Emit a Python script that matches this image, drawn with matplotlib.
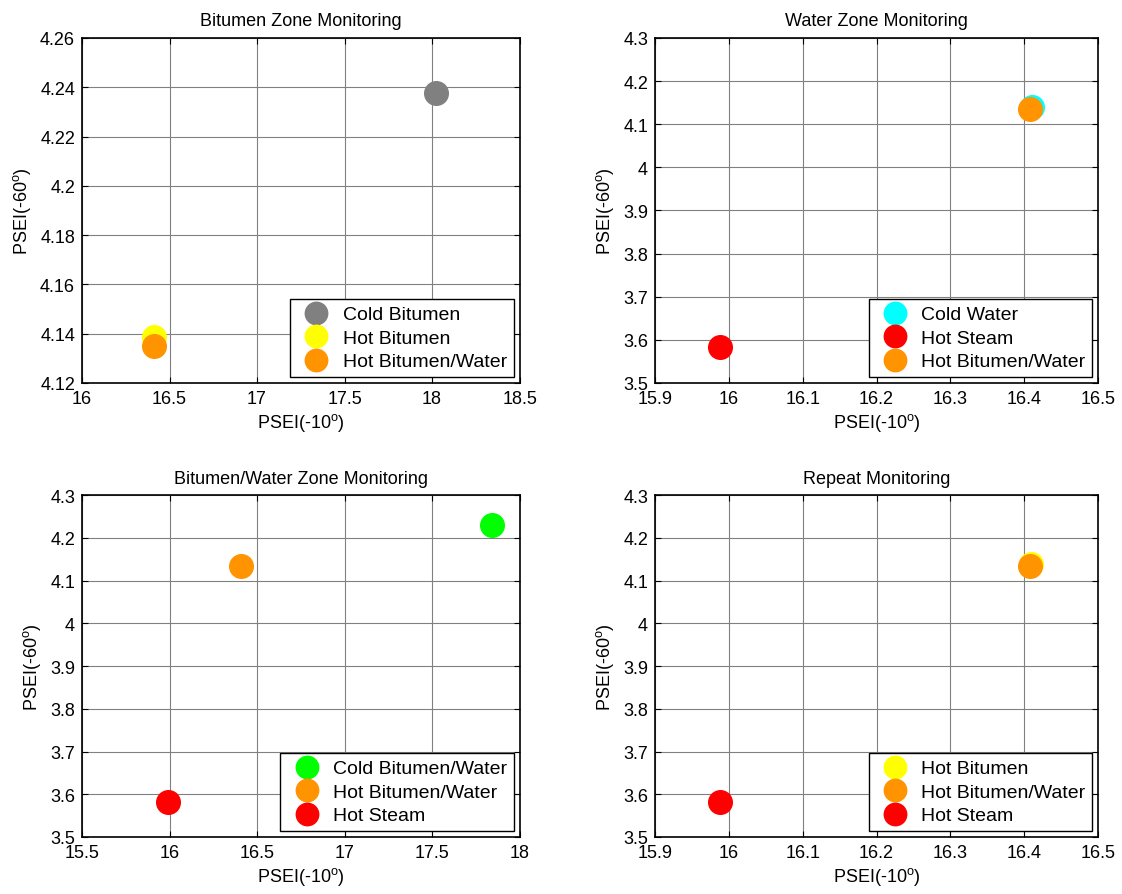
import matplotlib
matplotlib.use('Agg')
import matplotlib.pyplot as plt
from matplotlib.ticker import FuncFormatter, MultipleLocator

plt.rcParams['font.family'] = ['Liberation Sans', 'DejaVu Sans']
plt.rcParams['mathtext.default'] = 'regular'

# panel titles
titles = ['Bitumen Zone Monitoring', 'Water Zone Monitoring',
          'Bitumen/Water Zone Monitoring', 'Repeat Monitoring']

# series per panel: (label, x, y, colour)
bitumen_labels = ['Cold Bitumen', 'Hot Bitumen', 'Hot Bitumen/Water']
bitumen_x = [18.02, 16.41, 16.41]
bitumen_y = [4.2377, 4.1385, 4.1348]
bitumen_colors = ['#808080', '#FFFF00', '#FF9400']

water_labels = ['Cold Water', 'Hot Steam', 'Hot Bitumen/Water']
water_x = [16.410, 15.988, 16.407]
water_y = [4.140, 3.583, 4.135]
water_colors = ['#00FFFF', '#FF0000', '#FF9400']

bw_labels = ['Cold Bitumen/Water', 'Hot Bitumen/Water', 'Hot Steam']
bw_x = [17.84, 16.41, 15.99]
bw_y = [4.230, 4.135, 3.583]
bw_colors = ['#00FF00', '#FF9400', '#FF0000']

repeat_labels = ['Hot Bitumen', 'Hot Bitumen/Water', 'Hot Steam']
repeat_x = [16.409, 16.407, 15.988]
repeat_y = [4.138, 4.135, 3.583]
repeat_colors = ['#FFFF00', '#FF9400', '#FF0000']

panels = [
    (bitumen_labels, bitumen_x, bitumen_y, bitumen_colors, (16, 18.5, 0.5), (4.12, 4.26, 0.02)),
    (water_labels, water_x, water_y, water_colors, (15.9, 16.5, 0.1), (3.5, 4.3, 0.1)),
    (bw_labels, bw_x, bw_y, bw_colors, (15.5, 18, 0.5), (3.5, 4.3, 0.1)),
    (repeat_labels, repeat_x, repeat_y, repeat_colors, (15.9, 16.5, 0.1), (3.5, 4.3, 0.1)),
]

positions = [
    [0.0731, 0.571, 0.390, 0.3855],
    [0.5838, 0.571, 0.395, 0.3855],
    [0.0731, 0.0637, 0.390, 0.382],
    [0.5838, 0.0637, 0.395, 0.382],
]

fmt = FuncFormatter(lambda v, p: '%g' % round(v, 6))

fig = plt.figure(figsize=(11.22, 8.95), dpi=100)

for i, (labels, xs, ys, colors, xr, yr) in enumerate(panels):
    ax = fig.add_axes(positions[i])
    for lab, x, y, c in zip(labels, xs, ys, colors):
        ax.plot([x], [y], 'o', color=c, markeredgecolor=c, markersize=17, label=lab, zorder=3)
    ax.set_xlim(xr[0], xr[1])
    ax.set_ylim(yr[0], yr[1])
    ax.xaxis.set_major_locator(MultipleLocator(xr[2]))
    ax.yaxis.set_major_locator(MultipleLocator(yr[2]))
    ax.xaxis.set_major_formatter(fmt)
    ax.yaxis.set_major_formatter(fmt)
    ax.grid(True, color='#808080', linewidth=0.8)
    ax.set_axisbelow(True)
    ax.tick_params(direction='in', top=True, right=True, labelsize=13, length=4)
    ax.tick_params(axis='x', pad=5)
    ax.tick_params(axis='y', pad=5)
    for s in ax.spines.values():
        s.set_linewidth(1.2)
    ax.set_title(titles[i], fontsize=13, pad=9)
    ax.set_xlabel('PSEI(-10$^{o}$)', fontsize=13, labelpad=3)
    ax.set_ylabel('PSEI(-60$^{o}$)', fontsize=13, labelpad=5)
    leg = ax.legend(loc='lower right', fontsize=14, fancybox=False, framealpha=1,
                    edgecolor='black', borderaxespad=0.3, handletextpad=0.35,
                    labelspacing=0.3, borderpad=0.35, markerscale=0.95, handlelength=2.0)
    leg.get_frame().set_linewidth(1.0)

fig.savefig('out.png', dpi=100)
